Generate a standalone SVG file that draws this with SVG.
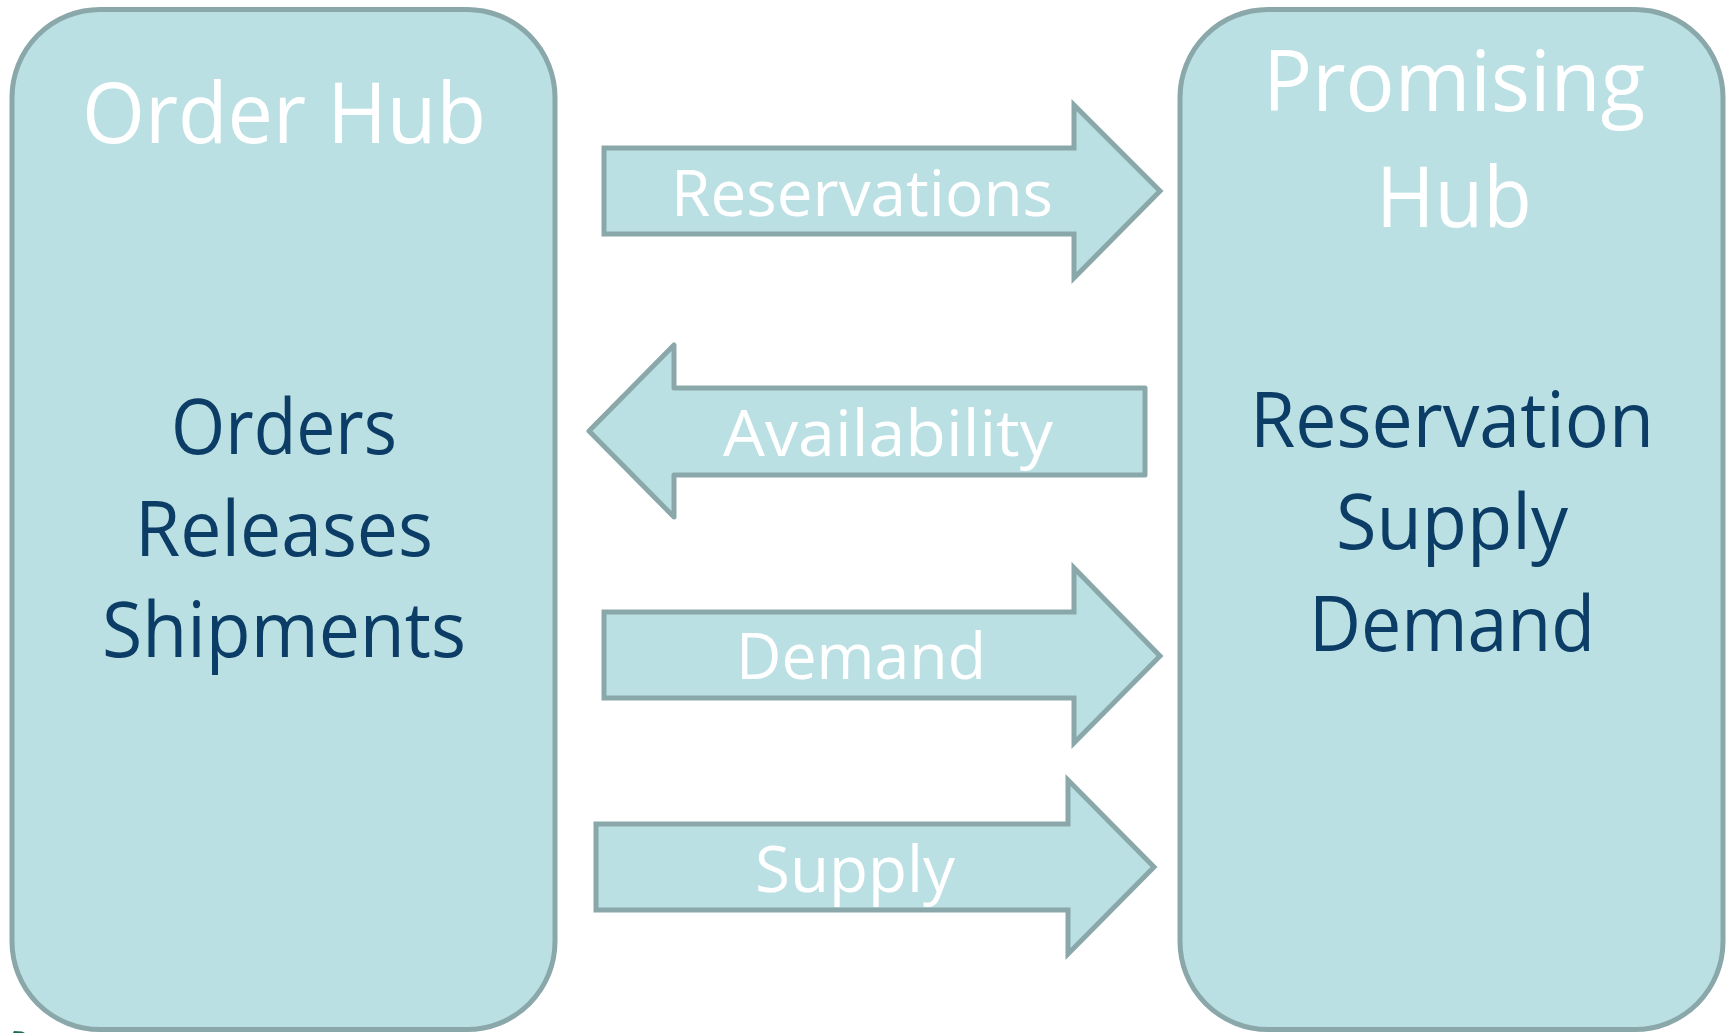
<svg xmlns="http://www.w3.org/2000/svg" width="1730" height="1033" viewBox="0 0 1730 1033">
  <style>
    .hub { fill: #bbe0e3; stroke: #8aa8a9; stroke-width: 5; }
    .flow { fill: #bbe0e3; stroke: #8aa8a9; stroke-width: 5; stroke-linejoin: miter; }
    .flow.back { stroke-linejoin: round; }
    .title { font-family: "Open Sans", "Liberation Sans", sans-serif; font-size: 84px; fill: #ffffff; text-anchor: middle; }
    .item { font-family: "Open Sans", "Liberation Sans", sans-serif; font-size: 76px; fill: #0b3d66; text-anchor: middle; }
    .label { font-family: "Open Sans", "Liberation Sans", sans-serif; font-size: 64px; fill: #ffffff; text-anchor: middle; }
  </style>
  <rect width="1730" height="1033" fill="#ffffff"/>

  <!-- Order Hub -->
  <g id="order-hub">
    <rect class="hub" x="12" y="9.5" width="543" height="1020" rx="88" ry="88"/>
    <text class="title" x="284" y="143" textLength="404" lengthAdjust="spacingAndGlyphs">Order Hub</text>
    <text class="item" x="284" y="454" textLength="226" lengthAdjust="spacingAndGlyphs">Orders</text>
    <text class="item" x="284" y="556" textLength="298" lengthAdjust="spacingAndGlyphs">Releases</text>
    <text class="item" x="284" y="657" textLength="364" lengthAdjust="spacingAndGlyphs">Shipments</text>
  </g>

  <!-- Promising Hub -->
  <g id="promising-hub">
    <rect class="hub" x="1180" y="9.5" width="543" height="1020" rx="88" ry="88"/>
    <text class="title" x="1454" y="111" textLength="382" lengthAdjust="spacingAndGlyphs">Promising</text>
    <text class="title" x="1454" y="227" textLength="156" lengthAdjust="spacingAndGlyphs">Hub</text>
    <text class="item" x="1452" y="447" textLength="404" lengthAdjust="spacingAndGlyphs">Reservation</text>
    <text class="item" x="1452" y="549" textLength="232" lengthAdjust="spacingAndGlyphs">Supply</text>
    <text class="item" x="1452" y="651" textLength="286" lengthAdjust="spacingAndGlyphs">Demand</text>
  </g>

  <!-- Block arrows between the hubs -->
  <g id="connectors">
    <g id="flow-reservations">
      <polygon class="flow" points="604,148 1074,148 1074,105 1160,191 1074,278 1074,234 604,234"/>
      <text class="label" x="862" y="216" textLength="382" lengthAdjust="spacingAndGlyphs">Reservations</text>
    </g>
    <g id="flow-availability">
      <polygon class="flow back" points="589,431 674,345 674,388 1145,388 1145,475 674,475 674,517"/>
      <text class="label" x="888" y="456" textLength="330" lengthAdjust="spacingAndGlyphs">Availability</text>
    </g>
    <g id="flow-demand">
      <polygon class="flow" points="604,612 1074,612 1074,568 1160,656 1074,743 1074,698 604,698"/>
      <text class="label" x="861" y="679" textLength="250" lengthAdjust="spacingAndGlyphs">Demand</text>
    </g>
    <g id="flow-supply">
      <polygon class="flow" points="596,824 1068,824 1068,780 1154,867 1068,954 1068,910 596,910"/>
      <text class="label" x="855" y="892" textLength="200" lengthAdjust="spacingAndGlyphs">Supply</text>
    </g>
  </g>

  <!-- small mark at the lower-left edge -->
  <path d="M13,1033 L14,1031 L22,1031.5 L25,1033 Z" fill="#1f6b5a"/>
</svg>
